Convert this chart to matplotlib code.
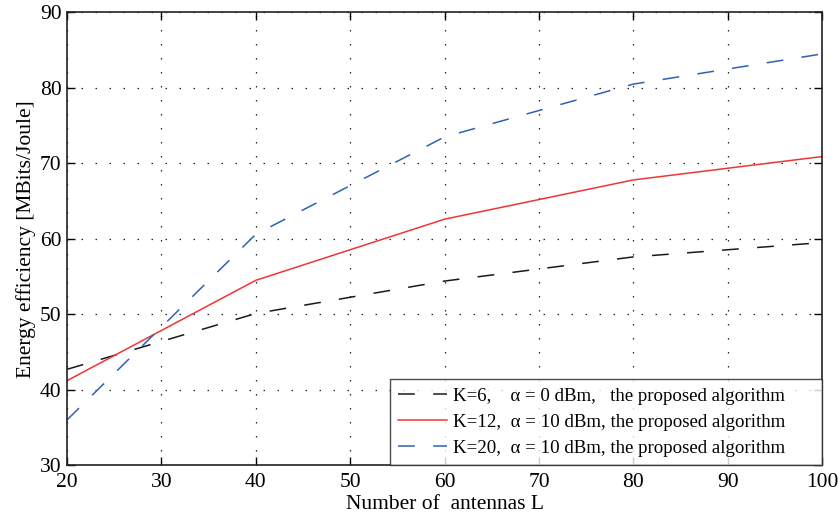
import matplotlib
matplotlib.use("Agg")
import matplotlib.pyplot as plt

antennas = [20, 40, 60, 80, 100]
ee_k6 = [42.7, 50.1, 54.4, 57.6, 59.5]
ee_k12 = [41.2, 54.5, 62.6, 67.8, 70.9]
ee_k20 = [36.0, 60.6, 73.5, 80.5, 84.5]
labels = [
    "K=6,    \u03b1 = 0 dBm,   the proposed algorithm      ",
    "K=12,  \u03b1 = 10 dBm, the proposed algorithm      ",
    "K=20,  \u03b1 = 10 dBm, the proposed algorithm      ",
]
xticks = [20, 30, 40, 50, 60, 70, 80, 90, 100]
yticks = [30, 40, 50, 60, 70, 80, 90]

plt.rcParams['font.family'] = ['Liberation Serif', 'DejaVu Serif']

fig = plt.figure(figsize=(8.38, 5.18), dpi=100)
ax = fig.add_axes([0.080, 0.102, 0.901, 0.874])

dash = (0, (11, 12))
ax.plot(antennas, ee_k6, color='#1a1a1a', lw=1.1, linestyle=dash, label=labels[0])
ax.plot(antennas, ee_k12, color='#F03535', lw=1.1, linestyle='-', label=labels[1])
ax.plot(antennas, ee_k20, color='#2E62B4', lw=1.1, linestyle=dash, label=labels[2])

ax.set_xlim(20, 100)
ax.set_ylim(30, 90)
ax.set_xticks(xticks)
ax.set_yticks(yticks)
ax.grid(True, color='#222222', linestyle=(0, (1.2, 10)), linewidth=0.9)
ax.tick_params(direction='in', length=6, width=1.0, top=True, right=True,
               labelsize=15.5)
ax.tick_params(axis='x', pad=6)
ax.tick_params(axis='y', pad=4)
for s in ax.spines.values():
    s.set_linewidth(1.2)
    s.set_color('#222222')

ax.set_xlabel("Number of  antennas L", fontsize=15.5, labelpad=2)
ax.set_ylabel("Energy efficiency [MBits/Joule]", fontsize=15.5, labelpad=3)

leg = ax.legend(loc='lower right', fontsize=13.6, frameon=True, fancybox=False,
                edgecolor='#222222', borderaxespad=0, handlelength=2.6,
                handletextpad=0.3, labelspacing=0.46, borderpad=0.45)
leg.get_frame().set_linewidth(1.0)

fig.savefig("out.png", dpi=100)
